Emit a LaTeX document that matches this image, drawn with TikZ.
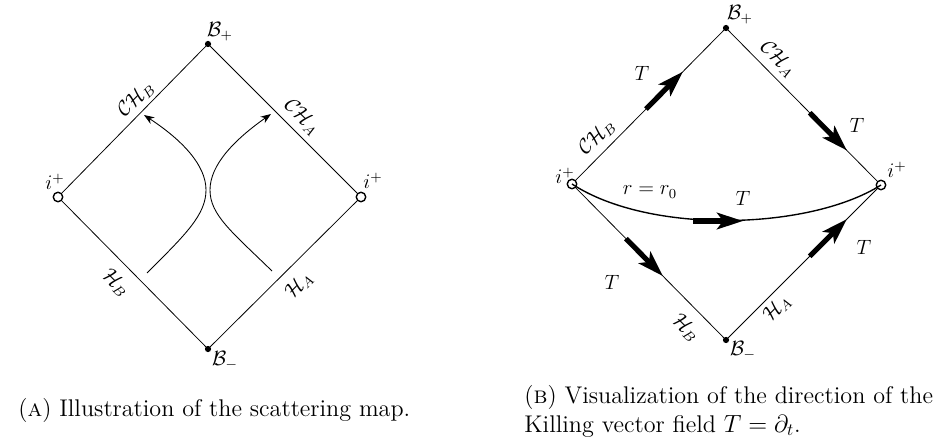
\documentclass[tikz,border=0pt]{standalone}
\usepackage{amsmath,amssymb}
\usetikzlibrary{arrows.meta,positioning,calc}

\tikzset{
  edgeline/.style={line width=0.45pt},
  openpt/.style={circle, draw, fill=white, line width=0.8pt, inner sep=0pt, minimum size=5.5pt},
  fullpt/.style={circle, fill, inner sep=0pt, minimum size=3.6pt},
  worldline/.style={line width=0.5pt, -{Stealth[length=6pt,width=4.5pt]}},
  Tarrow/.style={line width=3pt, -{Stealth[length=15pt,width=9.5pt,inset=3.5pt]}},
  lbl/.style={inner sep=1pt, font=\fontsize{12}{14}\selectfont},
  captext/.style={inner sep=0pt, anchor=west, align=left, font=\fontsize{14}{16.8}\selectfont}
}

\begin{document}
\begin{tikzpicture}[x=0.58pt, y=-0.58pt]
  \useasboundingbox (0,0) rectangle (948,443);

  % (A) scattering map
  \coordinate (aBp) at (208,44);
  \coordinate (aBm) at (208,349);
  \node[openpt] (aiL) at (58,197) {};
  \node[openpt] (aiR) at (361,197) {};
  \draw[edgeline] (aiL) -- (aBp) -- (aiR) -- (aBm) -- (aiL);
  \node[fullpt] at (aBp) {};
  \node[fullpt] at (aBm) {};

  \node[lbl] at (220,32) {$\mathcal{B}_+$};
  \node[lbl] at (225,361) {$\mathcal{B}_-$};
  \node[lbl] at (55,182) {$i^+$};
  \node[lbl] at (373,181) {$i^+$};
  \node[lbl, rotate=45] at (136,99) {$\mathcal{CH}_B$};
  \node[lbl, rotate=-45] at (302,117) {$\mathcal{CH}_A$};
  \node[lbl, rotate=-45] at (116,283) {$\mathcal{H}_B$};
  \node[lbl, rotate=45] at (299,285) {$\mathcal{H}_A$};

  % world lines crossing near the centre
  \coordinate (wL0) at (147,273);
  \coordinate (wL1) at (144,115);
  \coordinate (wR0) at (272,271);
  \coordinate (wR1) at (271,114);
  \draw[worldline] (wL0) .. controls (185,235) and (206,215) .. (206,190)
    .. controls (206,165) and (182,140) .. (wL1);
  \draw[worldline] (wR0) .. controls (232,232) and (210,215) .. (210,190)
    .. controls (210,165) and (234,140) .. (wR1);

  % (B) Killing field T
  \coordinate (bBp) at (726,28);
  \coordinate (bBm) at (726,340);
  \node[openpt] (biL) at (572,184) {};
  \node[openpt] (biR) at (881,185) {};
  \draw[edgeline] (biL) -- (bBp) -- (biR) -- (bBm) -- (biL);
  \node[fullpt] at (bBp) {};
  \node[fullpt] at (bBm) {};

  \draw[line width=0.8pt] (biL.center) .. controls (650,235) and (810,230) .. (biR.center);

  \draw[Tarrow] ($(biL)!0.48!(bBp)$) -- ($(biL)!0.72!(bBp)$);
  \draw[Tarrow] ($(bBp)!0.54!(biR)$) -- ($(bBp)!0.78!(biR)$);
  \draw[Tarrow] ($(biL)!0.35!(bBm)$) -- ($(biL)!0.59!(bBm)$);
  \draw[Tarrow] ($(bBm)!0.54!(biR)$) -- ($(bBm)!0.78!(biR)$);
  \draw[Tarrow] (693,221) -- (743,221);

  \node[lbl] at (740,15) {$\mathcal{B}_+$};
  \node[lbl] at (743,351) {$\mathcal{B}_-$};
  \node[lbl] at (565,176) {$i^+$};
  \node[lbl] at (897,170) {$i^+$};
  \node[lbl, rotate=45] at (597,137) {$\mathcal{CH}_B$};
  \node[lbl, rotate=-45] at (778,59) {$\mathcal{CH}_A$};
  \node[lbl, rotate=-45] at (686,328) {$\mathcal{H}_B$};
  \node[lbl, rotate=45] at (777,308) {$\mathcal{H}_A$};
  \node[lbl] at (642,73) {$T$};
  \node[lbl] at (857,125) {$T$};
  \node[lbl] at (743,198) {$T$};
  \node[lbl] at (864,247) {$T$};
  \node[lbl] at (612,282) {$T$};
  \node[lbl] at (650,192) {$r=r_0$};

  % captions
  \node[captext] (capA) at (18,410)
    {(\textsc{a}) Illustration of the scattering map.};
  \node[captext] (capB) at (524,411)
    {(\textsc{b}) Visualization of the direction of the\\
     Killing vector field $T=\partial_t$.};
\end{tikzpicture}
\end{document}
